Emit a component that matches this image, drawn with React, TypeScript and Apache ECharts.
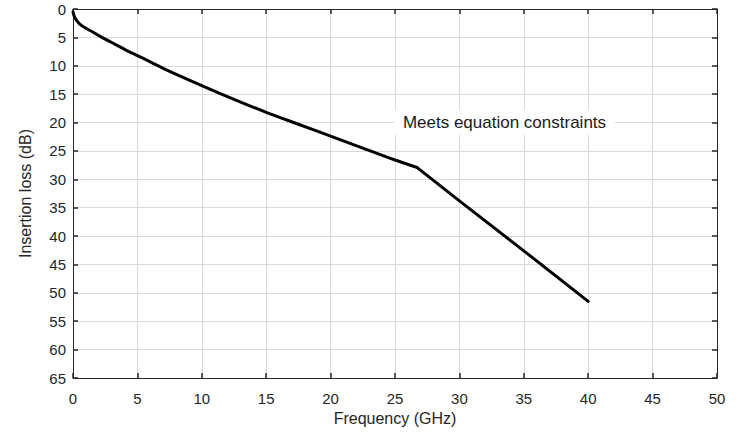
import React, { useEffect, useRef } from "react";
import * as echarts from "echarts";

// Curve: square-root-like part up to the knee, then a straight segment
const frequencyGHz = [0, 0.1, 0.25, 0.5, 1, 1.5, 2, 3, 4, 5, 6, 7.5, 10, 12.5, 15, 17.5, 20, 22.5, 25, 26.7, 30, 35, 40];
const insertionLossDb = [0.5, 1.3, 1.9, 2.6, 3.4, 4.0, 4.7, 5.9, 7.1, 8.2, 9.3, 11.0, 13.5, 15.9, 18.2, 20.3, 22.4, 24.5, 26.6, 27.9, 33.8, 42.6, 51.5];
const kneeFrequencyGHz = 26.7;
const annotationText = "Meets equation constraints";
const annotationAt = [33.5, 20];

const FONT = "Liberation Sans, Arial, sans-serif";
const AXIS_COLOR = "#262626";
const GRID_COLOR = "#d9d9d9";

export default function App() {
  const ref = useRef<HTMLDivElement>(null);
  useEffect(() => {
    if (!ref.current) return;
    const chart = echarts.init(ref.current, null, { renderer: "svg" });
    const all = frequencyGHz.map((f, i) => [f, insertionLossDb[i]]);
    const curved = all.filter((p) => p[0] <= kneeFrequencyGHz);
    const straight = all.filter((p) => p[0] >= kneeFrequencyGHz);
    const axisCommon = {
      axisLine: { show: true, onZero: false, lineStyle: { color: AXIS_COLOR, width: 1 } },
      axisTick: { show: true, inside: true, length: 5, lineStyle: { color: AXIS_COLOR, width: 1.5 } },
    };
    chart.setOption({
      animation: false,
      backgroundColor: "#ffffff",
      grid: { left: 73, right: 24, top: 9, bottom: 59, containLabel: false },
      xAxis: [
        {
          type: "value",
          min: 0,
          max: 50,
          interval: 5,
          position: "bottom",
          ...axisCommon,
          axisLabel: { color: "#262626", fontSize: 15, fontFamily: FONT, margin: 13 },
          splitLine: { show: true, lineStyle: { color: GRID_COLOR, width: 1 } },
          name: "Frequency (GHz)",
          nameLocation: "middle",
          nameGap: 32,
          nameTextStyle: { color: "#262626", fontSize: 16, fontFamily: FONT },
        },
        {
          type: "value",
          min: 0,
          max: 50,
          interval: 5,
          position: "top",
          ...axisCommon,
          axisLabel: { show: false },
          splitLine: { show: false },
        },
      ],
      yAxis: [
        {
          type: "value",
          min: 0,
          max: 65,
          interval: 5,
          inverse: true,
          position: "left",
          ...axisCommon,
          axisLabel: { color: "#262626", fontSize: 15, fontFamily: FONT, margin: 7 },
          splitLine: { show: true, lineStyle: { color: GRID_COLOR, width: 1 } },
          name: "Insertion loss (dB)",
          nameLocation: "middle",
          nameGap: 40,
          nameTextStyle: { color: "#262626", fontSize: 16, fontFamily: FONT },
        },
        {
          type: "value",
          min: 0,
          max: 65,
          interval: 5,
          inverse: true,
          position: "right",
          ...axisCommon,
          axisLabel: { show: false },
          splitLine: { show: false },
        },
      ],
      series: [
        {
          type: "line",
          data: curved,
          xAxisIndex: 0,
          yAxisIndex: 0,
          showSymbol: false,
          symbol: "none",
          smooth: 0.3,
          lineStyle: { color: "#000000", width: 3, cap: "round", join: "round" },
        },
        {
          type: "line",
          data: straight,
          xAxisIndex: 0,
          yAxisIndex: 0,
          showSymbol: false,
          symbol: "none",
          smooth: false,
          lineStyle: { color: "#000000", width: 3, cap: "round", join: "round" },
          markPoint: {
            symbol: "rect",
            symbolSize: 0,
            silent: true,
            data: [
              {
                coord: annotationAt,
                label: {
                  show: true,
                  formatter: annotationText,
                  position: "inside",
                  color: "#1a1a1a",
                  fontSize: 17,
                  fontFamily: FONT,
                  backgroundColor: "#ffffff",
                  padding: [4, 9],
                },
              },
            ],
          },
        },
      ],
    });
    return () => chart.dispose();
  }, []);
  return (
    <div
      ref={ref}
      style={{ position: "absolute", left: 0, top: 0, width: 741, height: 437 }}
    />
  );
}
